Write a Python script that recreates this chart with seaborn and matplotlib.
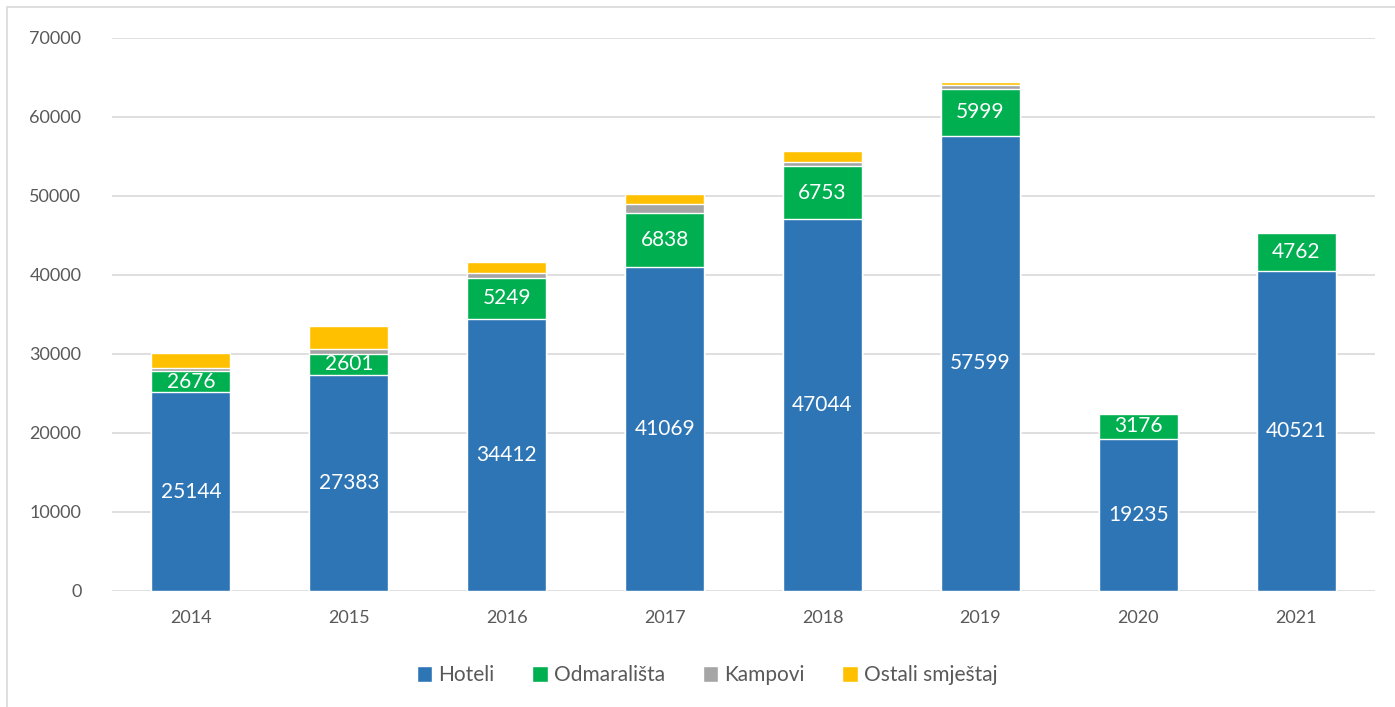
import numpy as np
import pandas as pd
import matplotlib
matplotlib.use("Agg")
import matplotlib.pyplot as plt
from matplotlib.patches import Patch, Rectangle
import seaborn as sns

# data
years = ["2014", "2015", "2016", "2017", "2018", "2019", "2020", "2021"]
hoteli = [25144, 27383, 34412, 41069, 47044, 57599, 19235, 40521]
odmaralista = [2676, 2601, 5249, 6838, 6753, 5999, 3176, 4762]
kampovi = [350, 600, 600, 1100, 550, 500, 150, 0]
ostali = [1950, 2950, 1400, 1250, 1350, 340, 100, 0]

series = ["Hoteli", "Odmarališta", "Kampovi", "Ostali smještaj"]
colors = ["#2E75B6", "#00B050", "#A5A5A5", "#FFC000"]
text_col = "#595959"

df = pd.DataFrame({"year": years, "Hoteli": hoteli, "Odmarališta": odmaralista,
                   "Kampovi": kampovi, "Ostali smještaj": ostali})
cum = df[series].cumsum(axis=1)

sns.set_style("white")
plt.rcParams["font.family"] = ["Lato", "DejaVu Sans"]

fig = plt.figure(figsize=(13.95, 7.07), dpi=100)
ax = fig.add_axes([0.0803, 0.1641, 0.9054, 0.7822])

# overlapping cumulative bars, tallest first
for s, c in zip(series[::-1], colors[::-1]):
    sns.barplot(x=df["year"], y=cum[s], color=c, width=0.5, ax=ax,
                saturation=1, zorder=2)

# value labels for the two big segments
for i in range(len(years)):
    ax.text(i, hoteli[i] / 2, str(hoteli[i]), ha="center", va="center",
            color="white", fontsize=15, zorder=3)
    ax.text(i, hoteli[i] + odmaralista[i] / 2, str(odmaralista[i]),
            ha="center", va="center", color="white", fontsize=15, zorder=3)

ax.set_ylim(0, 70000)
ax.set_xlim(-0.5, len(years) - 0.5)
ax.set_yticks(range(0, 70001, 10000))
ax.yaxis.grid(True, color="#D9D9D9", lw=1.2, zorder=0)
ax.set_axisbelow(True)
for sp in ax.spines.values():
    sp.set_visible(False)
ax.tick_params(axis="y", length=0, pad=22, labelsize=13, labelcolor=text_col)
ax.tick_params(axis="x", length=0, pad=14, labelsize=13, labelcolor=text_col)
ax.set_xlabel("")
ax.set_ylabel("")

handles = [Patch(facecolor=c, label=s) for s, c in zip(series, colors)]
fig.legend(handles=handles, loc="center", bbox_to_anchor=(0.507, 0.045),
           ncol=4, frameon=False, fontsize=15, labelcolor=text_col,
           handlelength=0.75, handleheight=0.75, handletextpad=0.3,
           columnspacing=1.8)

# light chart-area frame
fig.patches.append(Rectangle((7 / 1395, -0.02), 1.05, 1 - 7 / 707 + 0.02,
                             transform=fig.transFigure, fill=False,
                             edgecolor="#D9D9D9", lw=1.2))

fig.savefig("out.png", dpi=100)
